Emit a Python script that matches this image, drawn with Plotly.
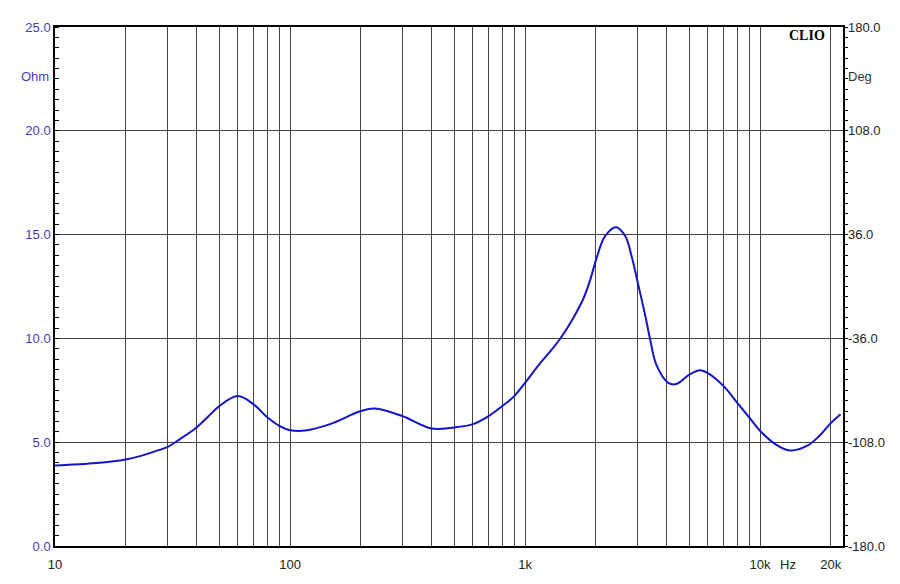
import plotly.graph_objects as go

# impedance curve
freq_hz = [
    10, 15, 20, 23, 27, 30, 34, 40, 45, 50, 60, 70, 80, 90, 100, 116, 148,
    200, 230, 300, 400, 500, 600, 700, 800, 900, 1000, 1160, 1280, 1430,
    1600, 1770, 1890, 2020, 2190, 2440, 2670, 2850, 3030, 3240, 3400, 3630,
    4070, 4400, 5000, 5550, 6000, 7000, 8000, 9000, 10000, 11600, 13400,
    15900, 17900, 20000, 22000,
]
impedance_ohm = [
    3.88, 4.0, 4.17, 4.33, 4.58, 4.76, 5.15, 5.71, 6.25, 6.74, 7.22, 6.82,
    6.2, 5.79, 5.58, 5.56, 5.87, 6.5, 6.62, 6.26, 5.66, 5.71, 5.87, 6.26,
    6.74, 7.22, 7.86, 8.81, 9.37, 10.08, 10.96, 11.91, 12.79, 13.9, 14.93,
    15.36, 14.93, 13.9, 12.6, 11.15, 10.0, 8.7, 7.86, 7.8, 8.25, 8.46,
    8.33, 7.7, 6.9, 6.19, 5.55, 4.91, 4.6, 4.83, 5.31, 5.92, 6.35,
]

# axis ticks
grid_freqs = [m * 10 ** d for d in (1, 2, 3) for m in range(1, 10)] + [10000, 20000]
freq_labels = {10: "10", 100: "100", 1000: "1k", 10000: "10k", 20000: "20k"}
ohm_ticks = [0, 5, 10, 15, 20, 25]
deg_ticks = [-180, -108, -36, 36, 108, 180]

BLUE = "#1414c8"
LABEL_BLUE = "#3c3cc8"
FONT = "Liberation Sans, Arial, sans-serif"

fig = go.Figure()

fig.add_trace(
    go.Scatter(
        x=freq_hz,
        y=impedance_ohm,
        mode="lines",
        line=dict(color=BLUE, width=2, shape="spline", smoothing=1.0),
        showlegend=False,
        hoverinfo="skip",
    )
)

# no phase curve in the picture, this only brings up the right axis
fig.add_trace(
    go.Scatter(x=[], y=[], yaxis="y2", mode="lines", showlegend=False)
)

# page body has an 8px margin, so the figure is a bit smaller than the window
fig.update_layout(
    width=892,
    height=576,
    margin=dict(l=47, r=57, t=16, b=36),
    paper_bgcolor="white",
    plot_bgcolor="white",
    font=dict(family=FONT, size=13, color="#222"),
    xaxis=dict(
        type="log",
        range=[1, 4.353],
        tickvals=grid_freqs,
        ticktext=[freq_labels.get(f, "") for f in grid_freqs],
        ticklabelstandoff=5,
        showgrid=True,
        gridcolor="#444",
        gridwidth=1,
        showline=True,
        linecolor="black",
        linewidth=2,
        mirror=True,
        ticks="",
        zeroline=False,
        tickfont=dict(color="#222", size=13),
    ),
    yaxis=dict(
        range=[0, 25],
        tickvals=ohm_ticks,
        tickformat=".1f",
        showgrid=True,
        gridcolor="#444",
        gridwidth=1,
        showline=True,
        linecolor="black",
        linewidth=1.5,
        mirror=True,
        zeroline=False,
        ticks="",
        tickfont=dict(color=LABEL_BLUE, size=13),
        minor=dict(dtick=0.5, ticks="inside", ticklen=4, tickcolor="black", showgrid=False),
    ),
    yaxis2=dict(
        range=[-180, 180],
        overlaying="y",
        side="right",
        tickvals=deg_ticks,
        showticklabels=False,
        showgrid=False,
        zeroline=False,
        ticks="",
        minor=dict(dtick=7.2, ticks="outside", ticklen=4, tickcolor="black"),
    ),
)

# phase labels as annotations so the minus signs come through
for d in deg_ticks:
    fig.add_annotation(
        text=f"{d:.1f}", xref="paper", yref="y2", x=1, y=d, xanchor="left",
        xshift=3, showarrow=False, font=dict(color="#222", size=13, family=FONT),
    )

fig.add_annotation(
    text="Ohm", xref="paper", yref="y", x=0, y=22.6, xanchor="right",
    xshift=-4, showarrow=False, font=dict(color=LABEL_BLUE, size=13, family=FONT),
)
fig.add_annotation(
    text="Deg", xref="paper", yref="y", x=1, y=22.6, xanchor="left",
    xshift=3, showarrow=False, font=dict(color="#333", size=13, family=FONT),
)
fig.add_annotation(
    text="Hz", xref="x", yref="paper", x=4.12, y=0, yanchor="top",
    yshift=-9, showarrow=False, font=dict(color="#222", size=13, family=FONT),
)
fig.add_annotation(
    text="<b>CLIO</b>", xref="paper", yref="paper", x=0.98, y=0.983,
    xanchor="right", yanchor="middle", showarrow=False,
    font=dict(color="black", size=14, family="Liberation Serif, serif"),
)

fig.write_html("out.html")
